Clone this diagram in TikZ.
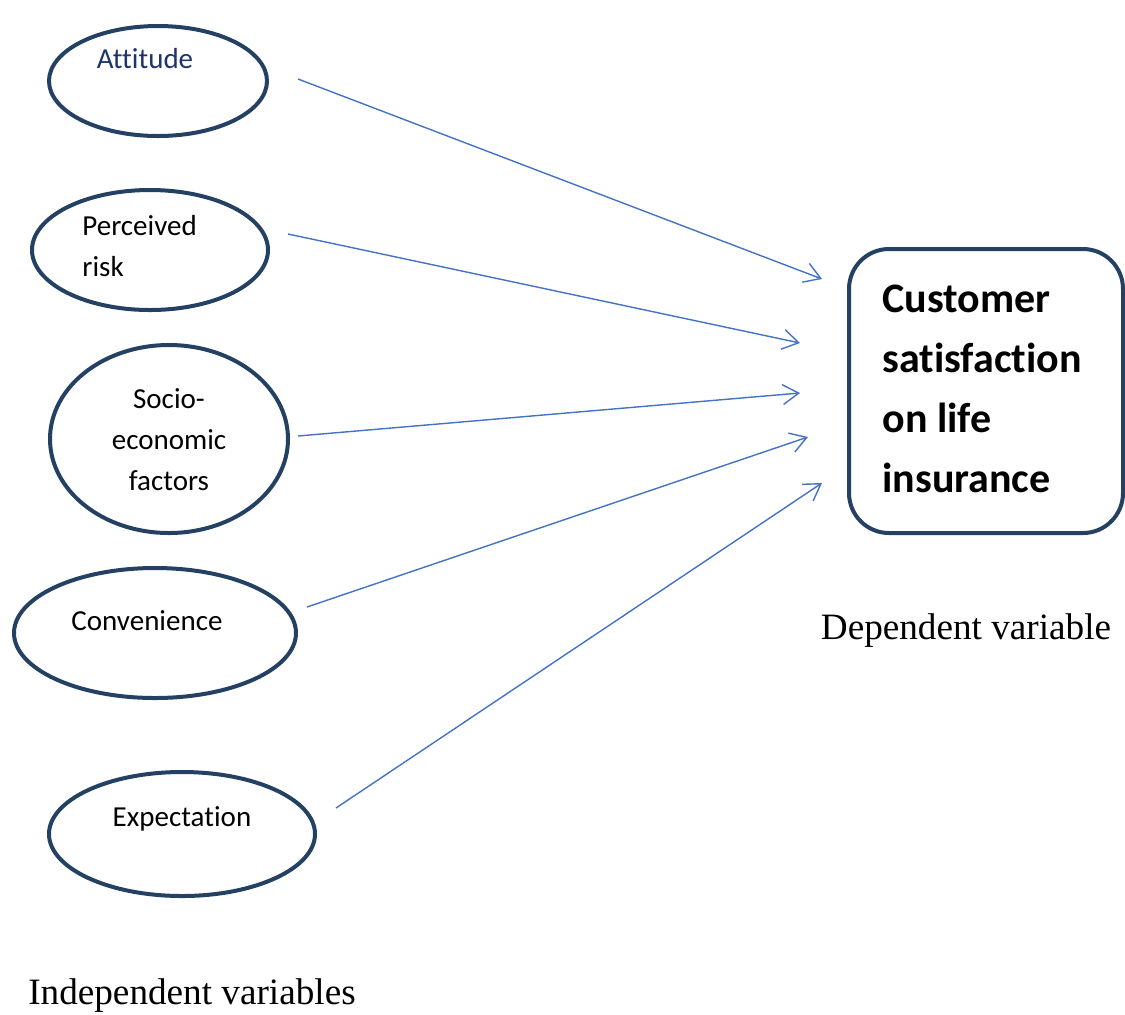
\documentclass[tikz,border=0pt]{standalone}
\usepackage{fontspec}
\setmainfont{Liberation Serif}
\newfontfamily\calfont[Ligatures=NoCommon]{Carlito}
\usetikzlibrary{arrows.meta,shapes.geometric}
\definecolor{navy}{RGB}{36,64,98}
\definecolor{darkblue}{RGB}{28,52,110}
\definecolor{arrowblue}{RGB}{68,114,196}
\begin{document}
\begin{tikzpicture}[x=0.5pt,y=-0.5pt,
  oval/.style={draw=navy,line width=2pt,ellipse,inner sep=0pt},
  lbl/.style={font=\calfont\fontsize{14.5}{20.5}\selectfont,inner sep=0pt},
  link/.style={draw=arrowblue,line width=0.7pt,-{Straight Barb[length=8pt,width=10pt,line width=0.7pt]}},
  captxt/.style={font=\fontsize{18.6}{22}\selectfont,inner sep=0pt}]
\useasboundingbox (0,0) rectangle (1125,1014);
% ellipses
\node[oval,minimum width=109pt,minimum height=55pt] (att) at (158,81) {};
\node[oval,minimum width=118pt,minimum height=60pt] (risk) at (150,250) {};
\node[oval,minimum width=119pt,minimum height=94pt] (soc) at (169,439) {};
\node[oval,minimum width=141pt,minimum height=65pt] (conv) at (155,633) {};
\node[oval,minimum width=133pt,minimum height=62pt] (exp) at (182,834) {};
% labels
\node[lbl,text=darkblue] (attt) at (145,59) {Attitude};
\node[lbl,align=left,anchor=west] (riskt) at (82,246) {Perceived\\risk};
\node[lbl,align=center] (soct) at (169,440) {Socio-\\economic\\factors};
\node[lbl] (convt) at (147,621) {Convenience};
\node[lbl] (expt) at (182,819) {Expectation};
% dependent box
\node[draw=navy,line width=2pt,rounded corners=20pt,minimum width=137pt,minimum height=142pt,inner sep=0pt] (box) at (986,391) {};
\node[font=\calfont\bfseries\fontsize{21}{29.9}\selectfont,align=left,anchor=west,inner sep=0pt] (boxt) at (882,389) {Customer\\satisfaction\\on life\\insurance};
% captions
\node[captxt] (dep) at (966,631) {Dependent variable};
\node[captxt] (indep) at (192,996) {Independent variables};
% connector endpoints
\coordinate (s1) at (298,79);  \coordinate (e1) at (822,279);
\coordinate (s2) at (288,234); \coordinate (e2) at (800,343);
\coordinate (s3) at (298,436); \coordinate (e3) at (800,393);
\coordinate (s4) at (307,607); \coordinate (e4) at (808,437);
\coordinate (s5) at (336,808); \coordinate (e5) at (822,483);
\draw[link] (s1) -- (e1);
\draw[link] (s2) -- (e2);
\draw[link] (s3) -- (e3);
\draw[link] (s4) -- (e4);
\draw[link] (s5) -- (e5);
\end{tikzpicture}
\end{document}
